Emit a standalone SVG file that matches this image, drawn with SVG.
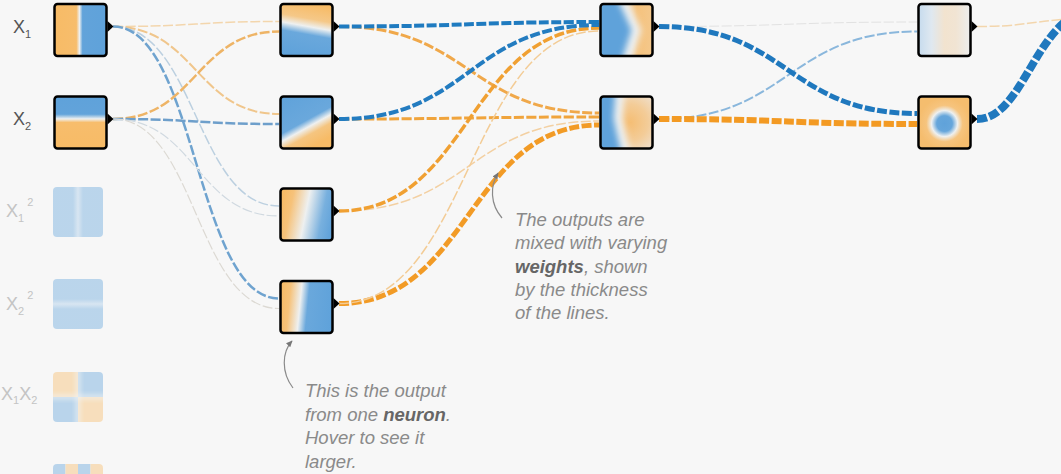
<svg xmlns="http://www.w3.org/2000/svg" width="1061" height="474" viewBox="0 0 1061 474">
<style>
.bg{fill:#f7f7f7}
.box{fill:none;stroke:#000;stroke-width:2.5}
.tri{fill:#000}
.lnk{fill:none;stroke-dasharray:10 2.5}
.lbl{font-family:"Liberation Sans",Arial,sans-serif;font-size:18px;fill:#555}
.f{fill:#c4c4c4}
.note{font-family:"Liberation Sans",Arial,sans-serif;font-size:18.5px;font-style:italic;fill:#8a8a8a}
.b{font-weight:bold;fill:#666}
.ann{fill:none;stroke:#8a8a8a;stroke-width:1.2}
</style>
<defs>
<clipPath id="clip"><rect width="52" height="52" rx="3"/></clipPath>
<clipPath id="clipf"><rect width="50" height="50" rx="4"/></clipPath>
<filter id="bl" x="-50%" y="-50%" width="200%" height="200%"><feGaussianBlur stdDeviation="3"/></filter>
<filter id="bl2" x="-50%" y="-50%" width="200%" height="200%"><feGaussianBlur stdDeviation="2"/></filter>
<marker id="ah" viewBox="0 0 10 10" refX="8" refY="5" markerWidth="6" markerHeight="6" orient="auto"><path d="M0,1 L9,5 L0,9 Z" fill="#777"/></marker>
<linearGradient id="gX1" x1="0" y1="0" x2="1" y2="0"><stop offset="0" stop-color="#f7bb66"/><stop offset="0.42" stop-color="#f7bd6c"/><stop offset="0.48" stop-color="#eef0f0"/><stop offset="0.54" stop-color="#62a3da"/><stop offset="1" stop-color="#5fa2da"/></linearGradient>
<linearGradient id="gX2" x1="0" y1="0" x2="0" y2="1"><stop offset="0" stop-color="#5fa2da"/><stop offset="0.34" stop-color="#62a3da"/><stop offset="0.43" stop-color="#eef0f0"/><stop offset="0.5" stop-color="#f7bd6c"/><stop offset="1" stop-color="#f7bb66"/></linearGradient>
<linearGradient id="gA" x1="0.59" y1="0" x2="0.41" y2="1"><stop offset="0" stop-color="#f7bb66"/><stop offset="0.28" stop-color="#f5c888"/><stop offset="0.43" stop-color="#eef0f0"/><stop offset="0.58" stop-color="#6aa8dc"/><stop offset="1" stop-color="#5fa2da"/></linearGradient>
<linearGradient id="gB" x1="0" y1="0" x2="0.55" y2="1"><stop offset="0" stop-color="#5fa2da"/><stop offset="0.56" stop-color="#6aa8dc"/><stop offset="0.675" stop-color="#eef0f0"/><stop offset="0.8" stop-color="#f5c580"/><stop offset="1" stop-color="#f7bb66"/></linearGradient>
<linearGradient id="gC" x1="0" y1="0.4" x2="1" y2="0.6"><stop offset="0" stop-color="#f7bb66"/><stop offset="0.18" stop-color="#f6c27a"/><stop offset="0.48" stop-color="#eef0f0"/><stop offset="0.8" stop-color="#78b0de"/><stop offset="1" stop-color="#62a3da"/></linearGradient>
<linearGradient id="gD" x1="0" y1="0.45" x2="1" y2="0.55"><stop offset="0" stop-color="#f7bb66"/><stop offset="0.16" stop-color="#f6c27a"/><stop offset="0.37" stop-color="#eef0f0"/><stop offset="0.52" stop-color="#6aa8dc"/><stop offset="1" stop-color="#5fa2da"/></linearGradient>
<linearGradient id="gE" x1="0" y1="0" x2="1" y2="0"><stop offset="0.35" stop-color="#efe3d2"/><stop offset="0.7" stop-color="#f5c27c"/><stop offset="1" stop-color="#f4c88c"/></linearGradient>
<radialGradient id="gF" cx="0.55" cy="0.5" r="0.6"><stop offset="0" stop-color="#f5bd72"/><stop offset="0.6" stop-color="#f3cc98"/><stop offset="1" stop-color="#f0dcc3"/></radialGradient>
<linearGradient id="gG" x1="0" y1="0" x2="1" y2="0"><stop offset="0" stop-color="#c6dbee"/><stop offset="0.25" stop-color="#dfe8f0"/><stop offset="0.5" stop-color="#f2e3cf"/><stop offset="0.72" stop-color="#f1e4d3"/><stop offset="1" stop-color="#edeeee"/></linearGradient>
<radialGradient id="gH" cx="0.5" cy="0.52" r="0.5"><stop offset="0" stop-color="#5fa2da"/><stop offset="0.3" stop-color="#66a6db"/><stop offset="0.5" stop-color="#eef0f0"/><stop offset="0.7" stop-color="#f6c47e"/><stop offset="1" stop-color="#f5bd6e"/></radialGradient>
<linearGradient id="gS1" x1="0" y1="0" x2="1" y2="0"><stop offset="0" stop-color="#5fa2da"/><stop offset="0.4" stop-color="#5fa2da"/><stop offset="0.5" stop-color="#a9cbe9"/><stop offset="0.6" stop-color="#5fa2da"/><stop offset="1" stop-color="#5fa2da"/></linearGradient>
<linearGradient id="gS2" x1="0" y1="0" x2="0" y2="1"><stop offset="0" stop-color="#5fa2da"/><stop offset="0.4" stop-color="#5fa2da"/><stop offset="0.5" stop-color="#a9cbe9"/><stop offset="0.6" stop-color="#5fa2da"/><stop offset="1" stop-color="#5fa2da"/></linearGradient>
</defs>
<rect class="bg" width="1061" height="474"/>

<g id="connectors">
<path class="lnk" stroke="#f3d6ad" stroke-width="1.5" d="M113,26.5 C196,26.5 196,21.5 279,21.5"/>
<path class="lnk" stroke="#f0c68c" stroke-width="2" d="M113,26.5 C196,26.5 196,114 279,114"/>
<path class="lnk" stroke="#bcd0e0" stroke-width="1.5" d="M113,26.5 C196,26.5 196,206 279,206"/>
<path class="lnk" stroke="#6fa3cf" stroke-width="2.5" d="M113,26.5 C196,26.5 196,298.5 279,298.5"/>
<path class="lnk" stroke="#eeb466" stroke-width="2.5" d="M113,119 C196,119 196,31.5 279,31.5"/>
<path class="lnk" stroke="#6e9fcb" stroke-width="2.5" d="M113,119 C196,119 196,124 279,124"/>
<path class="lnk" stroke="#d0d9e0" stroke-width="1.2" d="M113,119 C196,119 196,216 279,216"/>
<path class="lnk" stroke="#dcd9d3" stroke-width="1.2" d="M113,119 C196,119 196,308.5 279,308.5"/>

<path class="lnk" stroke="#f0a84a" stroke-width="3" d="M339,26.5 C469,26.5 469,113 599,113"/>
<path class="lnk" stroke="#f0a43c" stroke-width="3" d="M339,119 C469,119 469,117 599,117"/>
<path class="lnk" stroke="#f3d0a2" stroke-width="1.5" d="M339,211 C469,211 469,121 599,121"/>
<path class="lnk" stroke="#f29b26" stroke-width="5" d="M339,303.5 C469,303.5 469,125 599,125"/>
<path class="lnk" stroke="#f3cc96" stroke-width="1.5" d="M339,303.5 C469,303.5 469,31 599,31"/>
<path class="lnk" stroke="#f0a032" stroke-width="3.5" d="M339,211 C469,211 469,28 599,28"/>
<path class="lnk" stroke="#237cc0" stroke-width="4" d="M339,119 C469,119 469,25 599,25"/>
<path class="lnk" stroke="#1f7bc0" stroke-width="4" d="M339,26.5 C469,26.5 469,22 599,22"/>

<path class="lnk" stroke="#e2e2e2" stroke-width="1" d="M659,26.5 C788,26.5 788,22 917,22"/>
<path class="lnk" stroke="#8ab7dc" stroke-width="2" d="M659,119 C788,119 788,31.5 917,31.5"/>
<path class="lnk" stroke="#f39a23" stroke-width="6" d="M659,119 C788,119 788,124 917,124"/>
<path class="lnk" stroke="#1f78be" stroke-width="5" d="M659,26.5 C788,26.5 788,113.5 917,113.5"/>

<path class="lnk" stroke="#f3d6ad" stroke-width="1.5" d="M977,26.5 C1030,26.5 1030,20 1090,18"/>
<path class="lnk" stroke="#1f78be" stroke-width="8" d="M977,119 C1025,119 1035,15 1095,8"/>
</g>

<g id="n-x1" transform="translate(54.5,4)">
<rect width="52" height="52" rx="3" fill="url(#gX1)"/>
<rect class="box" width="52" height="52" rx="3"/>
<path class="tri" d="M53,17 L59,22.5 L53,28 Z"/>
</g>
<g id="n-x2" transform="translate(54.5,96.5)">
<rect width="52" height="52" rx="3" fill="url(#gX2)"/>
<rect class="box" width="52" height="52" rx="3"/>
<path class="tri" d="M53,17 L59,22.5 L53,28 Z"/>
</g>
<g id="n-x1sq" transform="translate(53,187)" opacity="0.4">
<rect width="50" height="50" rx="4" fill="url(#gS1)"/>
</g>
<g id="n-x2sq" transform="translate(53,279)" opacity="0.4">
<rect width="50" height="50" rx="4" fill="url(#gS2)"/>
</g>
<g id="n-x1x2" transform="translate(53,372)" opacity="0.4">
<g clip-path="url(#clipf)">
<rect width="25" height="25" fill="#f7bb66"/>
<rect x="25" width="25" height="25" fill="#5fa2da"/>
<rect y="25" width="25" height="25" fill="#5fa2da"/>
<rect x="25" y="25" width="25" height="25" fill="#f7bb66"/>
<rect x="22" y="-5" width="6" height="60" fill="#eef0f0" opacity="0.5" filter="url(#bl2)"/>
<rect x="-5" y="22" width="60" height="6" fill="#eef0f0" opacity="0.5" filter="url(#bl2)"/>
</g>
</g>
<g id="n-sin" transform="translate(53,464)" opacity="0.4">
<g clip-path="url(#clipf)">
<rect width="12.5" height="50" fill="#5fa2da"/>
<rect x="12.5" width="12.5" height="50" fill="#f7bb66"/>
<rect x="25" width="12.5" height="50" fill="#5fa2da"/>
<rect x="37.5" width="12.5" height="50" fill="#f7bb66"/>
</g>
</g>

<g id="n-h1-1" transform="translate(280.5,4)">
<rect width="52" height="52" rx="3" fill="url(#gA)"/>
<rect class="box" width="52" height="52" rx="3"/>
<path class="tri" d="M53,17 L59,22.5 L53,28 Z"/>
</g>
<g id="n-h1-2" transform="translate(280.5,96.5)">
<rect width="52" height="52" rx="3" fill="url(#gB)"/>
<rect class="box" width="52" height="52" rx="3"/>
<path class="tri" d="M53,17 L59,22.5 L53,28 Z"/>
</g>
<g id="n-h1-3" transform="translate(280.5,188.5)">
<rect width="52" height="52" rx="3" fill="url(#gC)"/>
<rect class="box" width="52" height="52" rx="3"/>
<path class="tri" d="M53,17 L59,22.5 L53,28 Z"/>
</g>
<g id="n-h1-4" transform="translate(280.5,281)">
<rect width="52" height="52" rx="3" fill="url(#gD)"/>
<rect class="box" width="52" height="52" rx="3"/>
<path class="tri" d="M53,17 L59,22.5 L53,28 Z"/>
</g>

<g id="n-h2-1" transform="translate(600.5,4)">
<g clip-path="url(#clip)">
<rect width="52" height="52" fill="url(#gE)"/>
<path d="M-5,-5 L26,-5 L41,26 L31,57 L-5,57 Z" fill="#eef0f0" filter="url(#bl)"/>
<path d="M-5,-5 L17,-5 L31,26 L21,57 L-5,57 Z" fill="#5fa2da" filter="url(#bl)"/>
</g>
<rect class="box" width="52" height="52" rx="3"/>
<path class="tri" d="M53,17 L59,22.5 L53,28 Z"/>
</g>
<g id="n-h2-2" transform="translate(600.5,96.5)">
<g clip-path="url(#clip)">
<rect width="52" height="52" fill="url(#gF)"/>
<path d="M-5,-5 L24,-5 L22,22 L25,36 L30,57 L-5,57 Z" fill="#eef0f0" filter="url(#bl)"/>
<path d="M-5,-5 L15,-5 L13,22 L16,36 L21,57 L-5,57 Z" fill="#5fa2da" filter="url(#bl)"/>
</g>
<rect class="box" width="52" height="52" rx="3"/>
<path class="tri" d="M53,17 L59,22.5 L53,28 Z"/>
</g>

<g id="n-h3-1" transform="translate(918.5,4)">
<rect width="52" height="52" rx="3" fill="url(#gG)"/>
<rect class="box" width="52" height="52" rx="3"/>
<path class="tri" d="M53,17 L59,22.5 L53,28 Z"/>
</g>
<g id="n-h3-2" transform="translate(918.5,96.5)">
<rect width="52" height="52" rx="3" fill="url(#gH)"/>
<rect class="box" width="52" height="52" rx="3"/>
<path class="tri" d="M53,17 L59,22.5 L53,28 Z"/>
</g>

<g id="labels">
<text class="lbl" x="13" y="33">X<tspan font-size="11" dy="5">1</tspan></text>
<text class="lbl" x="13" y="125">X<tspan font-size="11" dy="5">2</tspan></text>
<text class="lbl f" x="6" y="217">X<tspan font-size="11" dy="5">1</tspan><tspan font-size="11" dy="-16" dx="3">2</tspan></text>
<text class="lbl f" x="6" y="310">X<tspan font-size="11" dy="5">2</tspan><tspan font-size="11" dy="-16" dx="3">2</tspan></text>
<text class="lbl f" x="1" y="400">X<tspan font-size="11" dy="4">1</tspan><tspan dy="-4">X</tspan><tspan font-size="11" dy="4">2</tspan></text>
</g>

<g id="note-neuron">
<path class="ann" d="M293,388 C281,372 282,352 292,341" marker-end="url(#ah)"/>
<text class="note" x="305" y="397">This is the output</text>
<text class="note" x="305" y="420.5">from one <tspan class="b">neuron</tspan>.</text>
<text class="note" x="305" y="444">Hover to see it</text>
<text class="note" x="305" y="467.5">larger.</text>
</g>
<g id="note-weights">
<path class="ann" d="M502,218 C490,204 490,186 498,173" marker-end="url(#ah)"/>
<text class="note" x="515" y="226">The outputs are</text>
<text class="note" x="515" y="249">mixed with varying</text>
<text class="note" x="515" y="272.5"><tspan class="b">weights</tspan>, shown</text>
<text class="note" x="515" y="296">by the thickness</text>
<text class="note" x="515" y="319">of the lines.</text>
</g>
</svg>
